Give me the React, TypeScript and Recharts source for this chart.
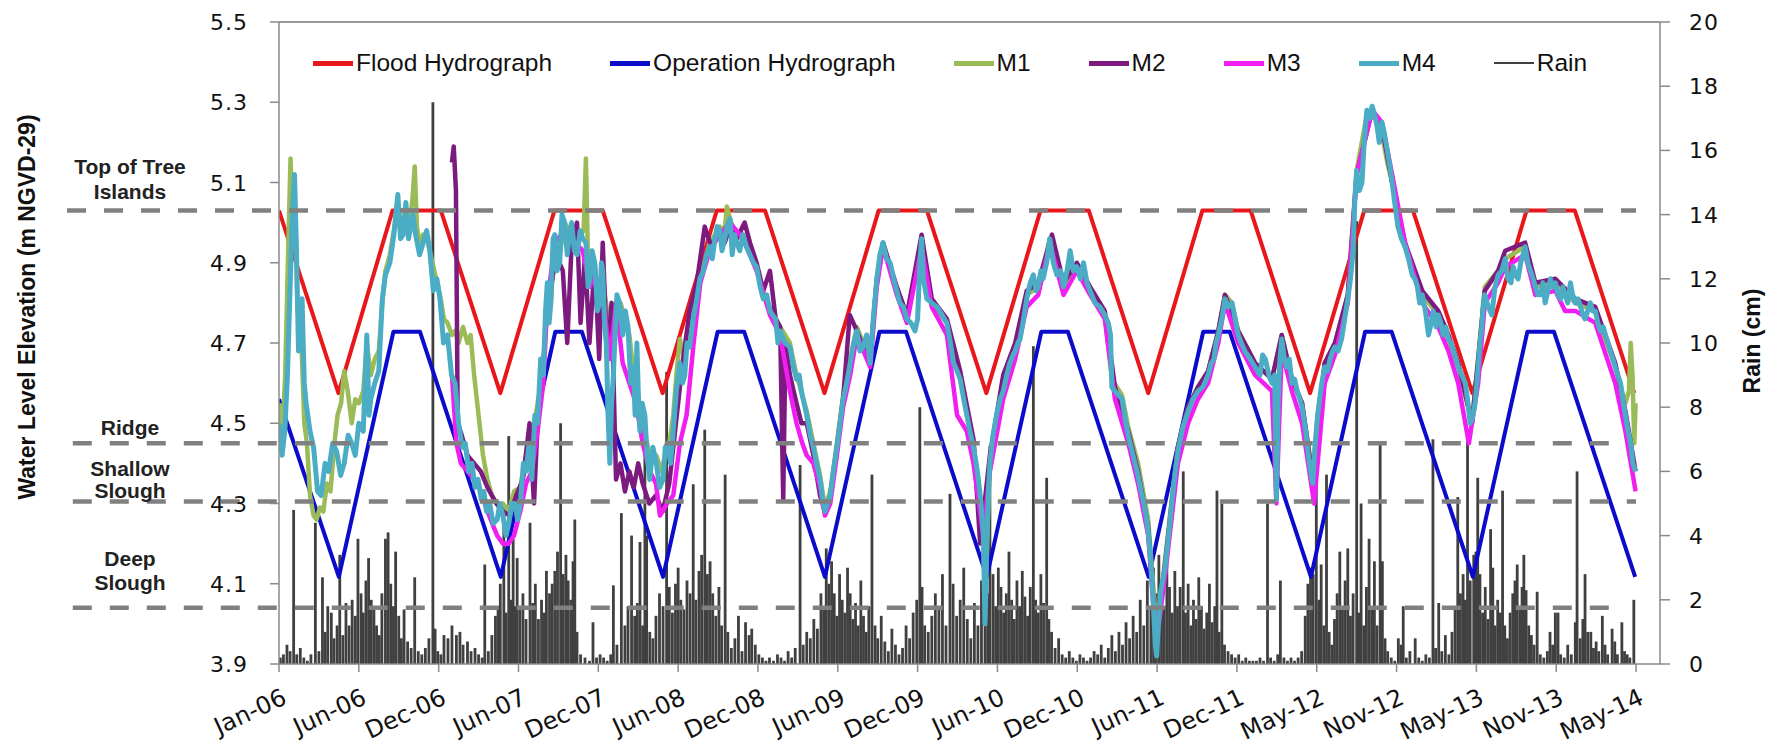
import React from "react";
import { ComposedChart, Line, Bar, XAxis, YAxis, ReferenceLine } from "recharts";

// x values are days since Jan 1 2006, axis major unit = 180 days (as in the Excel original)
const xTickLabels = [
  "Jan-06", "Jun-06", "Dec-06", "Jun-07", "Dec-07", "Jun-08", "Dec-08", "Jun-09", "Dec-09",
  "Jun-10", "Dec-10", "Jun-11", "Dec-11", "May-12", "Nov-12", "May-13", "Nov-13", "May-14",
];
const xTicks = xTickLabels.map((_, i) => i * 180);
const levelTicks = [3.9, 4.1, 4.3, 4.5, 4.7, 4.9, 5.1, 5.3, 5.5];
const rainTicks = [0, 2, 4, 6, 8, 10, 12, 14, 16, 18, 20];

// habitat elevations (m NGVD-29)
const treeIslandTop = 5.03;
const ridgeLevel = 4.45;
const shallowSloughLevel = 4.305;
const deepSloughLevel = 4.04;

const floodHydrograph: [number, number][] = [
  [0, 5.03], [134, 4.575], [256, 5.03], [365, 5.03], [499, 4.575], [621, 5.03], [730, 5.03],
  [865, 4.575], [987, 5.03], [1096, 5.03], [1230, 4.575], [1352, 5.03], [1461, 5.03],
  [1595, 4.575], [1717, 5.03], [1826, 5.03], [1960, 4.575], [2082, 5.03], [2191, 5.03],
  [2325, 4.575], [2447, 5.03], [2557, 5.03], [2691, 4.575], [2813, 5.03], [2922, 5.03],
  [3056, 4.575],
];

const operationHydrograph: [number, number][] = [
  [0, 4.56], [135, 4.117], [258, 4.728], [318, 4.728], [500, 4.117], [623, 4.728], [683, 4.728],
  [866, 4.117], [989, 4.728], [1049, 4.728], [1231, 4.117], [1354, 4.728], [1414, 4.728],
  [1596, 4.117], [1719, 4.728], [1779, 4.728], [1961, 4.117], [2084, 4.728], [2144, 4.728],
  [2327, 4.117], [2449, 4.728], [2509, 4.728], [2692, 4.117], [2815, 4.728], [2875, 4.728],
  [3058, 4.117],
];

const m1: [number, number][] = [
  [0, 4.55], [8, 4.48], [14, 4.62], [20, 4.9], [26, 5.16], [31, 4.98], [36, 5.05], [42, 4.78],
  [50, 4.72], [57, 4.5], [63, 4.45], [70, 4.32], [78, 4.27], [85, 4.26], [92, 4.29], [100, 4.28],
  [108, 4.35], [116, 4.33], [125, 4.45], [132, 4.52], [140, 4.55], [147, 4.63], [155, 4.58],
  [164, 4.5], [172, 4.56], [180, 4.55], [190, 4.58], [198, 4.7], [207, 4.62], [216, 4.66],
  [225, 4.68], [233, 4.8], [240, 4.88], [250, 4.92], [259, 4.98], [268, 5.04], [276, 4.99],
  [286, 5.03], [295, 5.0], [301, 5.06], [306, 5.14], [311, 4.99], [318, 4.94], [325, 4.97],
  [333, 4.96], [340, 4.93], [350, 4.88], [363, 4.82], [372, 4.76], [380, 4.75], [390, 4.72],
  [397, 4.73], [405, 4.7], [415, 4.74], [425, 4.7], [432, 4.72], [440, 4.62], [450, 4.52],
  [460, 4.42], [470, 4.36], [480, 4.32], [492, 4.3], [505, 4.3], [518, 4.28], [530, 4.33],
  [544, 4.34], [557, 4.42], [570, 4.45], [583, 4.55], [596, 4.63], [605, 4.82], [613, 4.8],
  [622, 4.95], [633, 4.92], [644, 5.0], [655, 4.98], [666, 4.95], [679, 4.97], [687, 4.98],
  [692, 5.16], [697, 4.9], [705, 4.9], [712, 4.88], [723, 4.82], [730, 4.86], [740, 4.78],
  [750, 4.7], [760, 4.78], [770, 4.8], [781, 4.76], [790, 4.72], [800, 4.62], [810, 4.55],
  [820, 4.5], [830, 4.45], [840, 4.4], [851, 4.42], [862, 4.38], [871, 4.42], [880, 4.45],
  [889, 4.52], [896, 4.62], [904, 4.71], [915, 4.66], [926, 4.72], [942, 4.82], [957, 4.89],
  [971, 4.95], [983, 4.97], [994, 4.99], [1005, 4.98], [1010, 5.04], [1017, 5.01], [1032, 4.96],
  [1046, 4.97], [1062, 4.93], [1077, 4.89], [1092, 4.82], [1107, 4.79], [1130, 4.74],
  [1152, 4.7], [1167, 4.62], [1190, 4.53], [1205, 4.45], [1220, 4.37], [1231, 4.29],
  [1243, 4.33], [1258, 4.45], [1272, 4.57], [1288, 4.66], [1303, 4.74], [1317, 4.7],
  [1333, 4.66], [1348, 4.86], [1362, 4.95], [1393, 4.83], [1416, 4.77], [1449, 4.95],
  [1472, 4.8], [1506, 4.75], [1536, 4.62], [1566, 4.45], [1588, 4.25], [1592, 4.05],
  [1603, 4.41], [1633, 4.59], [1660, 4.69], [1686, 4.82], [1712, 4.84], [1738, 4.96],
  [1769, 4.84], [1799, 4.89], [1829, 4.83], [1862, 4.77], [1878, 4.61], [1901, 4.57],
  [1915, 4.49], [1937, 4.4], [1960, 4.26], [1971, 4.1], [1979, 3.98], [1998, 4.16],
  [2014, 4.32], [2027, 4.44], [2050, 4.54], [2072, 4.59], [2095, 4.63], [2118, 4.73],
  [2133, 4.82], [2149, 4.8], [2163, 4.73], [2201, 4.65], [2239, 4.61], [2261, 4.72],
  [2284, 4.61], [2307, 4.55], [2331, 4.37], [2342, 4.52], [2358, 4.65], [2381, 4.7],
  [2410, 4.82], [2430, 5.13], [2453, 5.27], [2465, 5.28], [2487, 5.22], [2499, 5.15],
  [2510, 5.1], [2539, 4.94], [2578, 4.82], [2614, 4.77], [2637, 4.71], [2659, 4.64],
  [2690, 4.5], [2719, 4.84], [2749, 4.88], [2765, 4.91], [2810, 4.94], [2833, 4.84],
  [2878, 4.85], [2923, 4.8], [2968, 4.78], [3013, 4.64], [3036, 4.55], [3044, 4.58],
  [3048, 4.7], [3052, 4.62], [3056, 4.45], [3059, 4.55],
];

const m2: [number, number][] = [
  [390, 5.15], [394, 5.19], [399, 5.08], [403, 4.5], [412, 4.47], [425, 4.42], [440, 4.4],
  [455, 4.38], [470, 4.34], [490, 4.3], [505, 4.28], [520, 4.27], [535, 4.32], [550, 4.36],
  [565, 4.5], [575, 4.3], [585, 4.55], [596, 4.65], [605, 4.8], [615, 4.85], [625, 4.92],
  [640, 4.88], [650, 4.7], [660, 4.95], [672, 5.0], [680, 4.75], [690, 4.92], [700, 4.7],
  [712, 4.9], [722, 4.66], [730, 4.95], [740, 4.66], [750, 4.8], [760, 4.36], [770, 4.4],
  [780, 4.33], [790, 4.38], [800, 4.34], [810, 4.4], [820, 4.35], [835, 4.3], [850, 4.32],
  [865, 4.28], [880, 4.35], [895, 4.5], [910, 4.65], [926, 4.78], [942, 4.85], [960, 4.99],
  [975, 4.94], [990, 4.97], [1005, 4.95], [1017, 4.99], [1032, 4.96], [1050, 5.0], [1062, 4.95],
  [1077, 4.9], [1092, 4.83], [1107, 4.88], [1120, 4.76], [1130, 4.74], [1137, 4.31],
  [1142, 4.7], [1152, 4.62], [1167, 4.55], [1178, 4.5], [1190, 4.5], [1205, 4.42], [1220, 4.32],
  [1231, 4.28], [1243, 4.32], [1258, 4.44], [1272, 4.56], [1287, 4.77], [1303, 4.73],
  [1317, 4.69], [1333, 4.66], [1348, 4.86], [1362, 4.95], [1393, 4.84], [1416, 4.77],
  [1449, 4.97], [1472, 4.81], [1506, 4.76], [1536, 4.63], [1566, 4.46], [1581, 4.2],
  [1603, 4.42], [1633, 4.62], [1660, 4.7], [1686, 4.83], [1712, 4.85], [1743, 4.97],
  [1769, 4.85], [1799, 4.9], [1829, 4.84], [1862, 4.78], [1885, 4.59], [1915, 4.48],
  [1937, 4.38], [1960, 4.24], [1978, 3.96], [1998, 4.15], [2027, 4.44], [2050, 4.54],
  [2072, 4.59], [2095, 4.63], [2118, 4.73], [2133, 4.82], [2163, 4.73], [2201, 4.65],
  [2239, 4.61], [2261, 4.72], [2284, 4.61], [2307, 4.55], [2331, 4.36], [2358, 4.65],
  [2381, 4.7], [2410, 4.82], [2430, 5.12], [2465, 5.28], [2487, 5.24], [2510, 5.1],
  [2539, 4.95], [2578, 4.83], [2614, 4.78], [2637, 4.72], [2659, 4.65], [2690, 4.5],
  [2719, 4.83], [2749, 4.88], [2765, 4.93], [2810, 4.95], [2833, 4.85], [2878, 4.86],
  [2923, 4.81], [2968, 4.79], [3013, 4.65], [3036, 4.53], [3059, 4.38],
];

const m3: [number, number][] = [
  [390, 4.62], [400, 4.45], [410, 4.4], [425, 4.38], [449, 4.35], [470, 4.28], [492, 4.22],
  [505, 4.2], [518, 4.2], [530, 4.22], [544, 4.28], [557, 4.35], [570, 4.38], [583, 4.48],
  [596, 4.6], [605, 4.8], [622, 4.95], [644, 4.98], [660, 4.96], [685, 4.93], [701, 4.84],
  [712, 4.87], [730, 4.82], [746, 4.66], [760, 4.8], [775, 4.65], [790, 4.6], [805, 4.55],
  [820, 4.45], [836, 4.38], [850, 4.35], [859, 4.27], [875, 4.3], [889, 4.32], [904, 4.45],
  [919, 4.52], [935, 4.7], [950, 4.85], [971, 4.93], [994, 4.97], [1017, 5.0], [1046, 4.96],
  [1077, 4.88], [1107, 4.77], [1130, 4.72], [1152, 4.58], [1167, 4.5], [1180, 4.45],
  [1190, 4.42], [1205, 4.4], [1220, 4.34], [1231, 4.27], [1243, 4.3], [1258, 4.42],
  [1272, 4.54], [1288, 4.62], [1303, 4.72], [1333, 4.64], [1348, 4.84], [1362, 4.94],
  [1393, 4.82], [1416, 4.75], [1449, 4.94], [1472, 4.79], [1506, 4.72], [1529, 4.52],
  [1551, 4.48], [1566, 4.4], [1588, 4.22], [1603, 4.38], [1633, 4.56], [1660, 4.66],
  [1686, 4.79], [1712, 4.82], [1738, 4.95], [1769, 4.82], [1799, 4.88], [1829, 4.82],
  [1862, 4.76], [1885, 4.56], [1915, 4.45], [1937, 4.35], [1960, 4.22], [1978, 3.95],
  [1998, 4.12], [2027, 4.4], [2050, 4.5], [2072, 4.56], [2095, 4.6], [2118, 4.7], [2133, 4.8],
  [2163, 4.7], [2201, 4.62], [2239, 4.58], [2249, 4.3], [2261, 4.68], [2284, 4.58],
  [2307, 4.5], [2334, 4.3], [2358, 4.6], [2381, 4.67], [2410, 4.8], [2430, 5.12],
  [2465, 5.28], [2487, 5.25], [2510, 5.12], [2539, 4.95], [2578, 4.8], [2614, 4.74],
  [2637, 4.68], [2659, 4.6], [2683, 4.45], [2704, 4.6], [2719, 4.8], [2749, 4.85],
  [2765, 4.89], [2810, 4.92], [2833, 4.82], [2878, 4.83], [2900, 4.78], [2923, 4.78],
  [2968, 4.75], [3013, 4.6], [3036, 4.48], [3059, 4.33],
];

const m4: [number, number][] = [
  [0, 4.5], [7, 4.42], [13, 4.48], [19, 4.62], [24, 4.8], [30, 5.02], [35, 5.12], [39, 4.95],
  [44, 4.68], [52, 4.81], [57, 4.6], [61, 4.55], [70, 4.48], [78, 4.44], [87, 4.33], [95, 4.32],
  [104, 4.4], [112, 4.38], [121, 4.45], [130, 4.43], [139, 4.37], [147, 4.4], [156, 4.47],
  [164, 4.45], [172, 4.42], [180, 4.5], [190, 4.48], [198, 4.72], [203, 4.52], [207, 4.56],
  [216, 4.6], [225, 4.63], [233, 4.81], [240, 4.87], [250, 4.9], [259, 4.97], [268, 5.07],
  [274, 4.96], [280, 4.97], [286, 5.05], [292, 4.96], [302, 5.02], [308, 4.97], [317, 4.92],
  [325, 4.95], [333, 4.98], [340, 4.93], [348, 4.83], [356, 4.86], [363, 4.81], [371, 4.7],
  [380, 4.72], [389, 4.62], [397, 4.6], [405, 4.5], [413, 4.44], [420, 4.45], [428, 4.38],
  [435, 4.4], [442, 4.34], [449, 4.36], [456, 4.31], [462, 4.33], [468, 4.28], [475, 4.3],
  [483, 4.25], [492, 4.26], [498, 4.3], [505, 4.27], [512, 4.22], [518, 4.25], [525, 4.3],
  [532, 4.3], [538, 4.26], [544, 4.3], [551, 4.4], [557, 4.38], [564, 4.45], [570, 4.36],
  [577, 4.52], [583, 4.5], [590, 4.66], [596, 4.62], [601, 4.78], [605, 4.85], [609, 4.75],
  [613, 4.8], [618, 4.96], [622, 4.97], [627, 4.88], [633, 4.9], [638, 5.02], [644, 5.0],
  [650, 4.92], [655, 4.97], [660, 5.0], [666, 4.93], [672, 4.92], [679, 4.98], [685, 4.96],
  [692, 4.95], [697, 4.84], [701, 4.86], [706, 4.93], [712, 4.9], [718, 4.78], [723, 4.8],
  [727, 4.9], [730, 4.88], [734, 4.75], [738, 4.7], [742, 4.52], [746, 4.4], [750, 4.55],
  [754, 4.62], [757, 4.7], [762, 4.82], [768, 4.8], [775, 4.72], [781, 4.78], [787, 4.74],
  [793, 4.6], [799, 4.64], [803, 4.52], [807, 4.7], [810, 4.58], [814, 4.48], [819, 4.55],
  [825, 4.52], [830, 4.42], [836, 4.36], [843, 4.44], [851, 4.4], [858, 4.34], [866, 4.36],
  [871, 4.44], [877, 4.45], [883, 4.4], [889, 4.48], [896, 4.58], [904, 4.65], [910, 4.6],
  [915, 4.62], [920, 4.7], [926, 4.69], [934, 4.76], [942, 4.81], [949, 4.86], [957, 4.88],
  [964, 4.92], [971, 4.94], [977, 4.91], [983, 4.96], [988, 4.99], [994, 4.98], [999, 4.93],
  [1005, 4.96], [1010, 4.99], [1017, 5.01], [1022, 4.92], [1027, 4.97], [1032, 4.95],
  [1039, 4.93], [1046, 4.97], [1054, 4.94], [1062, 4.92], [1070, 4.9], [1077, 4.89],
  [1085, 4.84], [1092, 4.81], [1100, 4.82], [1107, 4.78], [1113, 4.77], [1120, 4.76],
  [1125, 4.7], [1130, 4.73], [1141, 4.7], [1152, 4.69], [1160, 4.64], [1167, 4.61],
  [1173, 4.62], [1178, 4.58], [1184, 4.55], [1190, 4.52], [1198, 4.47], [1205, 4.44],
  [1212, 4.4], [1220, 4.36], [1226, 4.31], [1231, 4.28], [1237, 4.3], [1243, 4.32],
  [1250, 4.38], [1258, 4.44], [1265, 4.5], [1272, 4.56], [1280, 4.6], [1288, 4.65],
  [1296, 4.7], [1303, 4.73], [1310, 4.68], [1317, 4.69], [1325, 4.72], [1333, 4.65],
  [1340, 4.76], [1348, 4.86], [1355, 4.92], [1362, 4.95], [1370, 4.91], [1378, 4.9],
  [1386, 4.86], [1393, 4.83], [1400, 4.8], [1408, 4.79], [1416, 4.76], [1425, 4.75],
  [1434, 4.73], [1440, 4.76], [1445, 4.9], [1449, 4.96], [1453, 4.86], [1461, 4.81],
  [1472, 4.8], [1484, 4.79], [1495, 4.77], [1506, 4.75], [1514, 4.7], [1521, 4.65],
  [1529, 4.63], [1536, 4.61], [1544, 4.56], [1551, 4.52], [1558, 4.48], [1566, 4.44],
  [1572, 4.4], [1577, 4.36], [1583, 4.3], [1588, 4.23], [1592, 4.0], [1596, 4.2], [1600, 4.34],
  [1603, 4.4], [1610, 4.47], [1618, 4.52], [1626, 4.56], [1633, 4.58], [1641, 4.62],
  [1648, 4.65], [1655, 4.67], [1660, 4.68], [1666, 4.7], [1671, 4.71], [1679, 4.76],
  [1686, 4.81], [1694, 4.85], [1701, 4.87], [1707, 4.83], [1712, 4.84], [1718, 4.88],
  [1723, 4.86], [1731, 4.9], [1738, 4.96], [1746, 4.9], [1754, 4.87], [1762, 4.88],
  [1769, 4.84], [1777, 4.88], [1784, 4.93], [1791, 4.88], [1799, 4.89], [1807, 4.86],
  [1814, 4.9], [1822, 4.85], [1829, 4.83], [1840, 4.8], [1851, 4.79], [1862, 4.77],
  [1870, 4.75], [1875, 4.72], [1878, 4.59], [1885, 4.58], [1893, 4.57], [1901, 4.56],
  [1908, 4.51], [1915, 4.47], [1926, 4.42], [1937, 4.37], [1944, 4.33], [1950, 4.3],
  [1955, 4.27], [1960, 4.23], [1966, 4.15], [1971, 4.06], [1976, 3.95], [1979, 3.92],
  [1983, 4.0], [1988, 4.08], [1993, 4.11], [1998, 4.14], [2006, 4.22], [2014, 4.31],
  [2020, 4.37], [2027, 4.43], [2038, 4.49], [2050, 4.53], [2061, 4.56], [2072, 4.58],
  [2083, 4.59], [2095, 4.62], [2102, 4.65], [2108, 4.66], [2113, 4.7], [2118, 4.72],
  [2126, 4.76], [2133, 4.81], [2141, 4.79], [2149, 4.8], [2156, 4.76], [2163, 4.72],
  [2170, 4.7], [2178, 4.68], [2190, 4.66], [2201, 4.64], [2212, 4.62], [2218, 4.67],
  [2224, 4.66], [2232, 4.62], [2239, 4.6], [2245, 4.62], [2249, 4.31], [2253, 4.55],
  [2257, 4.66], [2261, 4.71], [2267, 4.66], [2272, 4.64], [2278, 4.66], [2284, 4.6],
  [2290, 4.61], [2296, 4.58], [2302, 4.56], [2307, 4.54], [2314, 4.49], [2320, 4.43],
  [2326, 4.38], [2331, 4.35], [2336, 4.44], [2342, 4.52], [2350, 4.59], [2358, 4.64],
  [2364, 4.63], [2370, 4.66], [2376, 4.68], [2381, 4.69], [2388, 4.68], [2396, 4.71],
  [2403, 4.76], [2410, 4.81], [2416, 4.86], [2422, 4.93], [2426, 5.06], [2430, 5.13],
  [2436, 5.08], [2442, 5.1], [2447, 5.2], [2453, 5.28], [2459, 5.26], [2465, 5.29],
  [2470, 5.27], [2476, 5.24], [2481, 5.2], [2487, 5.25], [2493, 5.22], [2499, 5.18],
  [2505, 5.14], [2510, 5.1], [2517, 5.04], [2523, 4.99], [2531, 4.96], [2539, 4.94],
  [2547, 4.91], [2555, 4.87], [2561, 4.86], [2567, 4.84], [2572, 4.8], [2578, 4.82],
  [2585, 4.78], [2592, 4.72], [2598, 4.75], [2603, 4.78], [2609, 4.74], [2614, 4.77],
  [2620, 4.75], [2625, 4.72], [2631, 4.74], [2637, 4.71], [2643, 4.7], [2648, 4.68],
  [2654, 4.66], [2659, 4.64], [2667, 4.62], [2675, 4.6], [2681, 4.55], [2686, 4.5],
  [2690, 4.51], [2694, 4.53], [2697, 4.55], [2701, 4.6], [2704, 4.64], [2708, 4.7],
  [2712, 4.74], [2716, 4.8], [2719, 4.82], [2727, 4.79], [2735, 4.77], [2742, 4.84],
  [2749, 4.87], [2757, 4.88], [2765, 4.91], [2771, 4.86], [2778, 4.85], [2783, 4.89],
  [2788, 4.87], [2794, 4.86], [2800, 4.9], [2805, 4.92], [2810, 4.94], [2816, 4.9],
  [2822, 4.88], [2828, 4.86], [2833, 4.84], [2839, 4.82], [2845, 4.82], [2850, 4.85],
  [2855, 4.8], [2861, 4.83], [2867, 4.86], [2872, 4.84], [2878, 4.85], [2884, 4.82],
  [2890, 4.81], [2895, 4.84], [2900, 4.82], [2906, 4.8], [2912, 4.85], [2917, 4.82],
  [2923, 4.8], [2929, 4.81], [2935, 4.79], [2940, 4.77], [2945, 4.76], [2951, 4.78],
  [2957, 4.8], [2962, 4.78], [2968, 4.78], [2974, 4.75], [2980, 4.73], [2986, 4.74],
  [2991, 4.72], [2997, 4.7], [3002, 4.68], [3008, 4.66], [3013, 4.64], [3019, 4.62],
  [3025, 4.6], [3030, 4.56], [3036, 4.52], [3042, 4.48], [3048, 4.45], [3053, 4.4],
  [3059, 4.38],
];

// rain (cm), [day, value]
const rain: [number, number][] = [
  [3, 0.2], [10, 0.3], [18, 0.6], [25, 0.4], [33, 4.8], [40, 0.3], [48, 0.5], [56, 0.2],
  [64, 0.1], [72, 0.3], [82, 4.4], [90, 0.4], [98, 2.7], [104, 1.0], [110, 1.8], [118, 1.6],
  [124, 0.8], [131, 1.2], [137, 3.4], [144, 0.9], [151, 1.9], [158, 1.2], [165, 2.0],
  [172, 1.5], [178, 3.9], [185, 2.2], [190, 1.6], [196, 2.6], [202, 3.3], [208, 2.0],
  [214, 1.8], [220, 1.2], [226, 0.9], [232, 2.2], [240, 3.9], [246, 4.1], [252, 2.5],
  [258, 1.8], [263, 3.5], [270, 1.5], [276, 0.8], [282, 1.7], [290, 0.7], [298, 0.5],
  [306, 2.7], [314, 0.4], [322, 0.3], [330, 0.5], [338, 0.8], [347, 17.5], [352, 1.1],
  [358, 0.4], [365, 0.3], [372, 0.9], [381, 0.8], [390, 1.2], [400, 0.9], [408, 1.0],
  [415, 0.6], [425, 0.7], [433, 0.4], [442, 0.5], [450, 0.3], [458, 0.2], [464, 3.1],
  [472, 0.4], [480, 0.9], [488, 1.5], [494, 1.8], [499, 2.5], [507, 4.9], [512, 1.6],
  [518, 7.1], [523, 2.0], [528, 3.9], [533, 1.8], [537, 3.3], [543, 1.7], [550, 2.2],
  [557, 1.4], [566, 4.4], [572, 1.9], [578, 2.5], [585, 1.4], [592, 2.0], [598, 1.6],
  [603, 2.9], [610, 2.2], [616, 2.5], [622, 2.9], [628, 3.5], [635, 7.5], [641, 2.8],
  [647, 3.4], [652, 2.6], [658, 2.0], [663, 3.2], [667, 4.5], [672, 1.0], [680, 0.3],
  [690, 0.2], [700, 0.1], [708, 1.3], [716, 0.2], [724, 0.3], [732, 0.2], [740, 0.1],
  [748, 0.3], [754, 2.45], [762, 0.6], [772, 4.7], [780, 1.2], [787, 1.8], [795, 4.0],
  [802, 1.5], [808, 1.9], [814, 3.8], [820, 1.2], [825, 6.6], [829, 4.0], [836, 1.0],
  [843, 0.8], [850, 1.5], [858, 2.2], [866, 1.8], [874, 9.1], [880, 2.4], [887, 1.6],
  [894, 2.5], [900, 3.0], [906, 2.0], [913, 1.7], [920, 2.6], [927, 2.2], [934, 5.6],
  [940, 2.0], [947, 2.9], [953, 3.4], [960, 7.3], [966, 2.8], [972, 3.2], [978, 2.2],
  [985, 1.5], [992, 2.4], [998, 1.2], [1006, 5.9], [1012, 1.0], [1020, 0.5], [1028, 0.8],
  [1036, 1.5], [1044, 0.4], [1052, 1.3], [1060, 0.9], [1066, 1.1], [1074, 0.6], [1082, 0.3],
  [1090, 0.2], [1098, 0.1], [1106, 0.2], [1115, 0.1], [1124, 0.3], [1132, 0.2], [1140, 0.1],
  [1148, 0.4], [1156, 0.2], [1164, 0.5], [1175, 6.2], [1182, 0.6], [1190, 1.0], [1198, 0.8],
  [1206, 1.4], [1214, 1.1], [1222, 2.2], [1228, 1.8], [1234, 3.6], [1240, 2.5], [1246, 3.2],
  [1252, 2.2], [1258, 1.5], [1264, 2.8], [1270, 2.0], [1276, 1.6], [1282, 3.0], [1288, 2.2],
  [1294, 1.4], [1300, 1.9], [1306, 1.2], [1312, 2.6], [1318, 1.5], [1324, 1.0], [1330, 1.8],
  [1337, 5.9], [1344, 1.2], [1350, 0.8], [1358, 1.5], [1366, 0.7], [1374, 0.4], [1382, 1.1],
  [1390, 0.6], [1398, 0.3], [1406, 0.5], [1414, 1.2], [1422, 0.8], [1430, 1.6], [1438, 2.0],
  [1445, 8.0], [1450, 2.4], [1456, 1.2], [1464, 1.0], [1472, 1.5], [1480, 2.2], [1488, 1.8],
  [1496, 2.8], [1504, 1.2], [1513, 5.3], [1520, 2.5], [1528, 1.5], [1536, 2.0], [1544, 3.0],
  [1552, 1.4], [1560, 0.8], [1568, 1.9], [1576, 1.2], [1584, 2.6], [1592, 3.4], [1598, 2.2],
  [1603, 6.8], [1610, 2.8], [1616, 1.8], [1622, 3.0], [1628, 2.4], [1634, 1.6], [1640, 2.2],
  [1646, 3.5], [1652, 2.0], [1658, 1.4], [1664, 2.6], [1670, 1.8], [1676, 2.9], [1682, 2.1],
  [1688, 1.5], [1694, 2.4], [1701, 9.9], [1706, 2.0], [1712, 1.6], [1718, 2.8], [1724, 1.9],
  [1731, 5.8], [1736, 1.4], [1742, 1.0], [1750, 0.5], [1758, 0.8], [1766, 0.3], [1774, 0.2],
  [1782, 0.4], [1790, 0.2], [1798, 0.1], [1806, 0.3], [1814, 0.2], [1822, 0.1], [1830, 0.2],
  [1838, 0.4], [1846, 0.3], [1854, 0.6], [1862, 0.2], [1870, 0.5], [1878, 0.9], [1886, 0.4],
  [1894, 1.0], [1902, 0.6], [1910, 1.3], [1918, 0.8], [1926, 1.5], [1934, 1.0], [1942, 2.0],
  [1950, 1.2], [1958, 2.6], [1966, 1.8], [1972, 3.0], [1978, 2.2], [1984, 3.4], [1990, 2.6],
  [1996, 1.8], [2002, 3.2], [2008, 2.4], [2014, 1.6], [2020, 2.9], [2026, 1.8], [2032, 2.4],
  [2039, 6.0], [2044, 1.6], [2050, 2.5], [2056, 1.2], [2062, 2.0], [2068, 1.4], [2074, 2.7],
  [2080, 1.8], [2086, 1.1], [2092, 1.6], [2098, 2.5], [2104, 1.3], [2110, 1.8], [2115, 5.4],
  [2120, 1.0], [2126, 5.0], [2132, 0.6], [2140, 0.4], [2148, 0.3], [2156, 0.2], [2164, 0.3],
  [2172, 0.1], [2180, 0.2], [2188, 0.1], [2196, 0.1], [2204, 0.1], [2212, 0.2], [2220, 0.1],
  [2229, 5.0], [2236, 0.2], [2244, 0.1], [2252, 0.3], [2258, 2.6], [2266, 0.2], [2274, 0.1],
  [2282, 0.2], [2290, 0.1], [2298, 0.2], [2306, 0.4], [2314, 1.5], [2320, 2.5], [2326, 3.0],
  [2332, 2.8], [2339, 7.4], [2345, 2.0], [2350, 3.1], [2356, 1.2], [2362, 5.9], [2368, 1.0],
  [2374, 0.6], [2380, 1.4], [2386, 2.2], [2392, 3.5], [2398, 1.8], [2404, 2.6], [2410, 3.6],
  [2416, 1.5], [2422, 2.2], [2430, 13.8], [2435, 1.6], [2440, 5.0], [2446, 1.2], [2452, 2.4],
  [2458, 3.9], [2464, 1.8], [2470, 3.2], [2476, 1.2], [2483, 6.9], [2488, 3.2], [2494, 0.8],
  [2500, 0.4], [2508, 0.2], [2516, 0.1], [2524, 0.8], [2530, 0.6], [2535, 1.8], [2542, 0.2],
  [2550, 0.4], [2562, 0.8], [2570, 0.2], [2578, 0.1], [2586, 0.3], [2594, 0.2], [2602, 7.0],
  [2608, 0.5], [2615, 1.9], [2622, 0.4], [2630, 0.9], [2638, 0.3], [2645, 1.0], [2652, 1.8],
  [2658, 5.2], [2664, 2.2], [2670, 2.8], [2675, 2.0], [2680, 7.3], [2686, 2.6], [2694, 3.4],
  [2699, 3.5], [2703, 5.8], [2708, 2.8], [2714, 1.6], [2720, 2.4], [2726, 1.4], [2732, 4.2],
  [2737, 3.0], [2742, 1.2], [2748, 2.0], [2754, 1.6], [2759, 5.4], [2764, 1.2], [2770, 0.8],
  [2776, 1.6], [2782, 2.2], [2787, 2.6], [2792, 3.1], [2798, 1.8], [2803, 2.4], [2807, 3.4],
  [2812, 2.3], [2818, 1.2], [2824, 0.9], [2830, 0.6], [2837, 2.25], [2844, 0.3], [2852, 0.2],
  [2860, 0.4], [2866, 1.0], [2872, 0.6], [2878, 1.6], [2884, 1.6], [2890, 0.3], [2898, 0.2],
  [2906, 0.6], [2914, 0.3], [2923, 1.3], [2927, 6.0], [2934, 0.8], [2940, 1.4], [2945, 2.8],
  [2951, 1.0], [2958, 1.0], [2964, 0.5], [2970, 0.7], [2976, 0.4], [2984, 1.5], [2990, 0.6],
  [2996, 0.3], [3006, 1.1], [3012, 0.7], [3018, 0.3], [3028, 1.3], [3034, 0.4], [3040, 0.3],
  [3046, 0.2], [3055, 2.0],
];

const FLOOD = "#E8171C";
const OPERATION = "#0B0BCC";
const M1_COLOR = "#9BBB59";
const M2_COLOR = "#7D1A80";
const M3_COLOR = "#F01EF0";
const M4_COLOR = "#4BACC6";
const RAIN_COLOR = "#404040";
const DASH = "#808080";
const AXIS = "#8a8a8a";

// merge all series into one table keyed by day
const seriesSources: [string, [number, number][]][] = [
  ["flood", floodHydrograph],
  ["operation", operationHydrograph],
  ["m1", m1],
  ["m2", m2],
  ["m3", m3],
  ["m4", m4],
  ["rain", rain],
];
const rowsByDay = new Map<number, any>();
seriesSources.forEach(([key, pts]) => {
  pts.forEach(([day, v]) => {
    const row = rowsByDay.get(day) || { day };
    row[key] = v;
    rowsByDay.set(day, row);
  });
});
const chartData = Array.from(rowsByDay.values()).sort((a, b) => a.day - b.day);

const legendItems = [
  { name: "Flood Hydrograph", color: FLOOD, thick: 5 },
  { name: "Operation Hydrograph", color: OPERATION, thick: 5 },
  { name: "M1", color: M1_COLOR, thick: 5 },
  { name: "M2", color: M2_COLOR, thick: 5 },
  { name: "M3", color: M3_COLOR, thick: 5 },
  { name: "M4", color: M4_COLOR, thick: 5 },
  { name: "Rain", color: RAIN_COLOR, thick: 2.5 },
];

const tickFont = "'DejaVu Sans', Verdana, sans-serif";
const labelFont = "'Liberation Sans', Arial, sans-serif";

const LevelTick = ({ x, y, payload }: any) => (
  <text x={x} y={y} dy={8} textAnchor="end" fontFamily={tickFont} fontSize={22} letterSpacing={1} fill="#111">
    {Number(payload.value).toFixed(1)}
  </text>
);

const RainTick = ({ x, y, payload }: any) => (
  <text x={x} y={y} dy={8} textAnchor="start" fontFamily={tickFont} fontSize={22} letterSpacing={1} fill="#111">
    {payload.value}
  </text>
);

const DateTick = ({ x, y, payload }: any) => {
  const i = xTicks.indexOf(payload.value);
  const tx = x + 9;
  const ty = y + 29;
  return (
    <text x={tx} y={ty} textAnchor="end" transform={`rotate(-25 ${tx} ${ty})`} fontFamily={tickFont} fontSize={24} fill="#111">
      {xTickLabels[i]}
    </text>
  );
};

// thin daily-rain spike, centred on its day
const RainSpike = (props: any) => {
  const { x, y, width, height } = props;
  if (!height || height <= 0) return null;
  const cx = x + (width || 0) / 2;
  return <rect x={cx - 1.4} y={y} width={2.8} height={height} fill={RAIN_COLOR} />;
};

const habitatLines = [
  { y: treeIslandTop, from: -478, to: 3060 },
  { y: ridgeLevel, from: -465, to: 3000 },
  { y: shallowSloughLevel, from: -465, to: 3060 },
  { y: deepSloughLevel, from: -465, to: 3000 },
];

const lineProps = {
  yAxisId: "level",
  type: "linear" as const,
  dot: false,
  activeDot: false,
  connectNulls: true,
  isAnimationActive: false,
  strokeLinejoin: "round" as const,
};

export default function App() {
  return (
    <div style={{ position: "absolute", left: 0, top: 0, width: 1782, height: 749, background: "#fff", overflow: "hidden" }}>
      <ComposedChart width={1782} height={749} data={chartData} margin={{ top: 22, right: 62, bottom: 25, left: 219 }}>
        <XAxis
          dataKey="day"
          type="number"
          domain={[0, 3114]}
          ticks={xTicks}
          allowDataOverflow
          height={60}
          tickSize={8}
          tick={<DateTick />}
          axisLine={{ stroke: AXIS, strokeWidth: 1.5 }}
          tickLine={{ stroke: AXIS, strokeWidth: 1.5 }}
        />
        <YAxis
          yAxisId="level"
          orientation="left"
          domain={[3.9, 5.5]}
          ticks={levelTicks}
          allowDataOverflow
          width={60}
          tickSize={9}
          tickMargin={22}
          tick={<LevelTick />}
          axisLine={{ stroke: AXIS, strokeWidth: 1.5 }}
          tickLine={{ stroke: AXIS, strokeWidth: 1.5 }}
        />
        <YAxis
          yAxisId="rain"
          orientation="right"
          domain={[0, 20]}
          ticks={rainTicks}
          allowDataOverflow
          width={60}
          tickSize={10}
          tickMargin={19}
          tick={<RainTick />}
          axisLine={{ stroke: AXIS, strokeWidth: 1.5 }}
          tickLine={{ stroke: AXIS, strokeWidth: 1.5 }}
        />
        <ReferenceLine yAxisId="level" y={5.5} stroke="#777" strokeWidth={1.5} ifOverflow="visible" />

        <Line {...lineProps} dataKey="flood" stroke={FLOOD} strokeWidth={4} />
        <Line {...lineProps} dataKey="operation" stroke={OPERATION} strokeWidth={4} />
        <Line {...lineProps} dataKey="m1" stroke={M1_COLOR} strokeWidth={4.5} />
        <Line {...lineProps} dataKey="m2" stroke={M2_COLOR} strokeWidth={4.5} />
        <Line {...lineProps} dataKey="m3" stroke={M3_COLOR} strokeWidth={4.5} />
        <Line {...lineProps} dataKey="m4" stroke={M4_COLOR} strokeWidth={5} />

        {habitatLines.map((h, i) => (
          <ReferenceLine
            key={i}
            yAxisId="level"
            segment={[{ x: h.from, y: h.y }, { x: h.to, y: h.y }]}
            stroke={DASH}
            strokeWidth={4.5}
            strokeDasharray="19 18"
            ifOverflow="visible"
          />
        ))}

        <Bar yAxisId="rain" dataKey="rain" fill={RAIN_COLOR} shape={<RainSpike />} isAnimationActive={false} />
      </ComposedChart>

      <svg width={1782} height={749} style={{ position: "absolute", left: 0, top: 0, pointerEvents: "none" }}>
        <g fontFamily={labelFont} fontWeight="bold" fill="#111">
          <text x={27} y={307} fontSize={23} textAnchor="middle" dominantBaseline="central" transform="rotate(-90 27 307)">
            Water Level Elevation (m NGVD-29)
          </text>
          <text x={1752} y={341} fontSize={23} textAnchor="middle" dominantBaseline="central" transform="rotate(-90 1752 341)">
            Rain (cm)
          </text>
          <g fontSize={21} textAnchor="middle" fill="#222">
            <text x={130} y={166} dominantBaseline="central">Top of Tree</text>
            <text x={130} y={191} dominantBaseline="central">Islands</text>
            <text x={130} y={427} dominantBaseline="central">Ridge</text>
            <text x={130} y={468} dominantBaseline="central">Shallow</text>
            <text x={130} y={490} dominantBaseline="central">Slough</text>
            <text x={130} y={558} dominantBaseline="central">Deep</text>
            <text x={130} y={582} dominantBaseline="central">Slough</text>
          </g>
        </g>
      </svg>

      <div
        style={{
          position: "absolute",
          left: 313,
          top: 48,
          display: "flex",
          alignItems: "center",
          gap: 58,
          fontFamily: labelFont,
          fontSize: 24.5,
          color: "#111",
          whiteSpace: "nowrap",
        }}
      >
        {legendItems.map((it) => (
          <div key={it.name} style={{ display: "flex", alignItems: "center", height: 30 }}>
            <div style={{ width: 40, height: it.thick, background: it.color, marginRight: 3 }} />
            <span>{it.name}</span>
          </div>
        ))}
      </div>
    </div>
  );
}
